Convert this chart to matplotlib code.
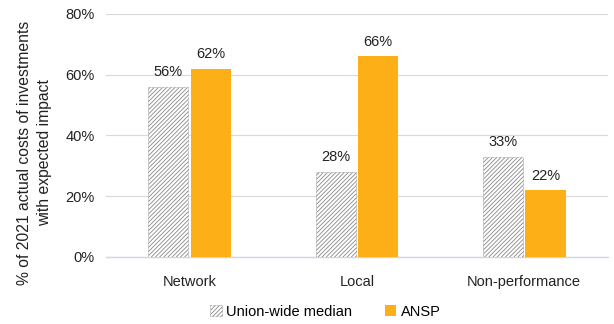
import matplotlib.pyplot as plt
import numpy as np

plt.rcParams['font.family'] = ['Liberation Sans', 'DejaVu Sans']
plt.rcParams['hatch.color'] = '#444444'
plt.rcParams['hatch.linewidth'] = 0.6

# -----------------------------
# Data
# -----------------------------
categories = ["Network", "Local", "Non-performance"]
union_median = [56, 28, 33]
ansp = [62, 66, 22]
yticks = [0, 20, 40, 60, 80]

fig = plt.figure(figsize=(6.14, 3.24), dpi=100)
ax = fig.add_axes([0.1726, 0.207, 0.8174, 0.750])

x = np.arange(len(categories))
w = 0.24
off = 0.127

b1 = ax.bar(x - off, union_median, w, color='white', edgecolor='#888888',
            hatch='////////', linewidth=0.5, linestyle=(0, (1, 1)),
            label='Union-wide median', zorder=3)
b2 = ax.bar(x + off, ansp, w, color='#FCAF17', label='ANSP', zorder=3)

for bars in (b1, b2):
    for rect in bars:
        h = rect.get_height()
        ax.text(rect.get_x() + rect.get_width() / 2, h + 2.5, f"{h:.0f}%",
                ha='center', va='bottom', fontsize=10.5, color='#222222')

ax.set_xlim(-0.5, 2.5)
ax.set_ylim(0, 80)
ax.set_yticks(yticks)
ax.set_yticklabels([f"{t}%" for t in yticks], fontsize=10.5, color='#222222')
ax.set_xticks(x)
ax.set_xticklabels(categories, fontsize=10.5, color='#222222')
ax.tick_params(length=0, pad=8)
ax.tick_params(axis='x', pad=13)

ax.grid(axis='y', color='#d9d9d9', linewidth=0.8, zorder=0)
for s in ['top', 'right', 'left']:
    ax.spines[s].set_visible(False)
ax.spines['bottom'].set_color('#c9d7ea')
ax.spines['bottom'].set_linewidth(1.0)

ax.set_ylabel("% of 2021 actual costs of investments\nwith expected impact",
              fontsize=11.3, color='#222222', linespacing=1.45,
              ha='center', va='center', multialignment='center')
ax.yaxis.set_label_coords(-0.143, 0.43)

fig.legend(handles=[b1, b2], loc='lower center', bbox_to_anchor=(0.53, -0.025),
           ncol=2, frameon=False, fontsize=10.5, handlelength=0.8,
           handleheight=0.8, columnspacing=2.2, handletextpad=0.3)

fig.savefig('out.png', dpi=100)
